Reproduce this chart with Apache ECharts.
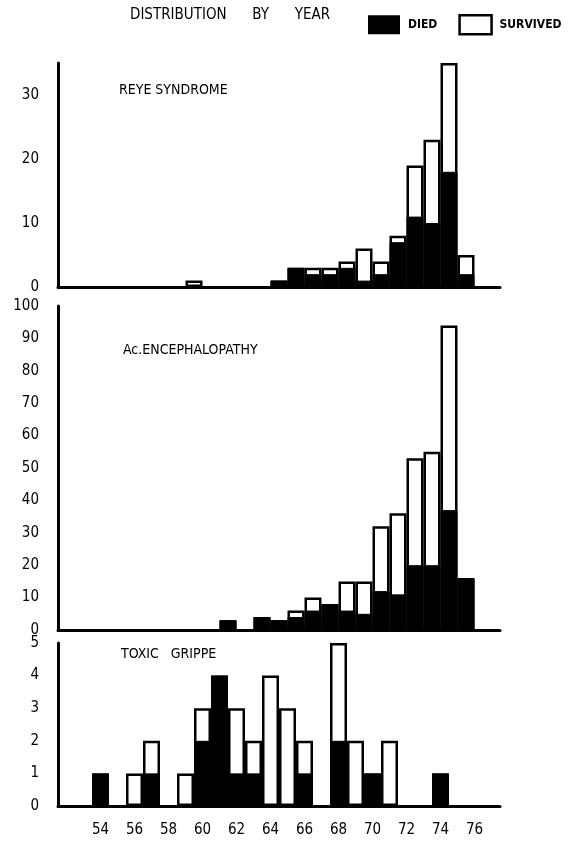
<!DOCTYPE html>
<html>
<head>
<meta charset="utf-8">
<title>Distribution by year</title>
<script src="https://cdn.jsdelivr.net/npm/echarts@6/dist/echarts.min.js"></script>
<style>
  html, body { margin: 0; padding: 0; background: #fff; }
  #chart { width: 574px; height: 841px; }
</style>
</head>
<body>
<div id="chart"></div>
<script>
// years 1952 - 1977 (two digit, as on the original axis)
var years = [52, 53, 54, 55, 56, 57, 58, 59, 60, 61, 62, 63, 64, 65, 66, 67, 68, 69, 70, 71, 72, 73, 74, 75, 76, 77];
var xTickLabels = [54, 56, 58, 60, 62, 64, 66, 68, 70, 72, 74, 76];

var reyeDied     = [0, 0, 0, 0, 0, 0, 0, 0, 0, 0, 0, 0, 1, 3, 2, 2, 3, 1, 2, 7, 11, 10, 18, 2, 0, 0];
var reyeSurvived = [0, 0, 0, 0, 0, 0, 0, 1, 0, 0, 0, 0, 0, 0, 1, 1, 1, 5, 2, 1, 8, 13, 17, 3, 0, 0];

var encephDied     = [0, 0, 0, 0, 0, 0, 0, 0, 0, 3, 0, 4, 3, 4, 6, 8, 6, 5, 12, 11, 20, 20, 37, 16, 0, 0];
var encephSurvived = [0, 0, 0, 0, 0, 0, 0, 0, 0, 0, 0, 0, 0, 2, 4, 0, 9, 10, 20, 25, 33, 35, 57, 0, 0, 0];

var grippeDied     = [0, 0, 1, 0, 0, 1, 0, 0, 2, 4, 1, 1, 0, 0, 1, 0, 2, 0, 1, 0, 0, 0, 1, 0, 0, 0];
var grippeSurvived = [0, 0, 0, 0, 1, 1, 0, 1, 1, 0, 2, 1, 4, 3, 1, 0, 3, 2, 0, 2, 0, 0, 0, 0, 0, 0];

var reyeTicks = [0, 10, 20, 30];
var encephTicks = [0, 10, 20, 30, 40, 50, 60, 70, 80, 90, 100];
var grippeTicks = [0, 1, 2, 3, 4, 5];

var FONT = "'DejaVu Sans Condensed', 'DejaVu Sans', sans-serif";
var GRID_LEFT = 58, GRID_RIGHT = 74;
var barW = (574 - GRID_LEFT - GRID_RIGHT) / years.length;

var chart = echarts.init(document.getElementById('chart'));

var panels = [
  { died: reyeDied, survived: reyeSurvived, top: 63, height: 224, max: 35, ticks: reyeTicks, shift: 0.5 },
  { died: encephDied, survived: encephSurvived, top: 306, height: 324, max: 100, ticks: encephTicks, shift: 0.5 },
  { died: grippeDied, survived: grippeSurvived, top: 643, height: 163, max: 5, ticks: grippeTicks, shift: 0 }
];

var grids = [], xAxes = [], yAxes = [], series = [];

// bar points [year, count], zero counts left out
function toPoints(values, shift) {
  var pts = [];
  values.forEach(function (v, i) {
    if (v) pts.push([years[i] + shift, v]);
  });
  return pts;
}

panels.forEach(function (p, i) {
  var last = i === panels.length - 1;
  // the open box spans the whole case count, the black part (died) sits over it
  var totals = p.died.map(function (d, k) { return d + p.survived[k]; });

  grids.push({ left: GRID_LEFT, right: GRID_RIGHT, top: p.top, height: p.height });
  xAxes.push({
    type: 'value', gridIndex: i, min: 51.5, max: 77.5,
    splitLine: { show: false },
    axisLine: { show: true, onZero: true, lineStyle: { color: '#000', width: 3 } },
    axisTick: { show: false },
    axisLabel: {
      show: last, customValues: xTickLabels, margin: 17,
      color: '#000', fontFamily: FONT, fontSize: 15
    }
  });
  yAxes.push({
    type: 'value', gridIndex: i, min: 0, max: p.max,
    splitLine: { show: false },
    axisLine: { show: true, lineStyle: { color: '#000', width: 3 } },
    axisTick: { show: false },
    axisLabel: {
      customValues: p.ticks, margin: 19,
      color: '#000', fontFamily: FONT, fontSize: 15
    }
  });
  series.push({
    name: 'SURVIVED', type: 'bar',
    xAxisIndex: i, yAxisIndex: i, barWidth: barW, barGap: '-100%',
    itemStyle: { color: '#fff', borderColor: '#000', borderWidth: 2.5 },
    data: toPoints(totals, p.shift)
  });
  series.push({
    name: 'DIED', type: 'bar',
    xAxisIndex: i, yAxisIndex: i, barWidth: barW, barGap: '-100%',
    itemStyle: { color: '#000', borderColor: '#000', borderWidth: 1 },
    data: toPoints(p.died, p.shift)
  });
});

var titleStyle = { color: '#000', fontFamily: FONT, fontSize: 14, fontWeight: 'normal' };

var option = {
  animation: false,
  backgroundColor: '#fff',
  title: [
    { text: 'DISTRIBUTION      BY      YEAR', left: 130, top: 8, padding: 0, textStyle: { color: '#000', fontFamily: FONT, fontSize: 15, fontWeight: 'normal' } },
    { text: 'REYE SYNDROME', left: 119, top: 83, padding: 0, textStyle: titleStyle },
    { text: 'Ac.ENCEPHALOPATHY', left: 123, top: 343, padding: 0, textStyle: titleStyle },
    { text: 'TOXIC   GRIPPE', left: 121, top: 647, padding: 0, textStyle: titleStyle }
  ],
  legend: {
    left: 368, top: 14, padding: 0,
    itemWidth: 32, itemHeight: 19, itemGap: 21,
    selectedMode: false,
    icon: 'rect',
    textStyle: { color: '#000', fontFamily: FONT, fontSize: 12, fontWeight: 'bold', padding: [3, 0, 0, 3] },
    data: [
      { name: 'DIED', itemStyle: { color: '#000', borderWidth: 0 } },
      { name: 'SURVIVED', itemStyle: { color: '#fff', borderColor: '#000', borderWidth: 2.5 } }
    ]
  },
  grid: grids,
  xAxis: xAxes,
  yAxis: yAxes,
  series: series
};

chart.setOption(option);
</script>
</body>
</html>
